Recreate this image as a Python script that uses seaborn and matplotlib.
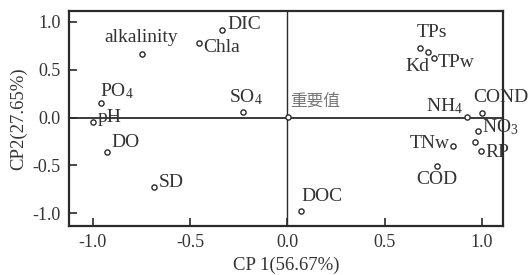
import matplotlib
matplotlib.use('Agg')
import matplotlib.pyplot as plt
import seaborn as sns
import pandas as pd

# loadings
labels = ['alkalinity', 'Chla', 'DIC', 'PO$\\mathregular{_4}$', 'pH', 'SO$\\mathregular{_4}$',
          '重要值', 'TPs', 'Kd', 'TPw', 'NH$\\mathregular{_4}$', 'COND', 'NO$\\mathregular{_3}$',
          '', 'RP', 'TNw', 'COD', 'DOC', 'DO', 'SD']
cp1 = [-0.75, -0.456, -0.338, -0.959, -1.0, -0.226,
       0.005, 0.682, 0.723, 0.754, 0.923, 1.0, 0.979,
       0.964, 0.995, 0.851, 0.769, 0.072, -0.928, -0.687]
cp2 = [0.67, 0.785, 0.911, 0.157, -0.052, 0.063,
       0.01, 0.723, 0.691, 0.618, 0.01, 0.052, -0.136,
       -0.251, -0.346, -0.293, -0.503, -0.974, -0.366, -0.723]
x_ticks = [-1.0, -0.5, 0.0, 0.5, 1.0]
y_ticks = [-1.0, -0.5, 0.0, 0.5, 1.0]

df = pd.DataFrame({'CP1': cp1, 'CP2': cp2, 'var': labels})

# label placement (offset in px, ha, va)
place = {
    'alkalinity': (0, 8, 'center', 'bottom'),
    'Chla': (5, -5, 'left', 'center'),
    'DIC': (6, 6, 'left', 'center'),
    'PO$\\mathregular{_4}$': (-1, 11, 'left', 'center'),
    'pH': (5, 5, 'left', 'center'),
    'SO$\\mathregular{_4}$': (2, 14, 'center', 'center'),
    '重要值': (2, 15, 'left', 'center'),
    'TPs': (-3, 16, 'left', 'center'),
    'Kd': (1, -15, 'right', 'center'),
    'TPw': (4, -4, 'left', 'center'),
    'NH$\\mathregular{_4}$': (-4, 10, 'right', 'center'),
    'COND': (-9, 15, 'left', 'center'),
    'NO$\\mathregular{_3}$': (4, 3, 'left', 'center'),
    'RP': (5, -2, 'left', 'center'),
    'TNw': (-3, 2, 'right', 'center'),
    'COD': (0, -14, 'center', 'center'),
    'DOC': (0, 14, 'left', 'center'),
    'DO': (4, 10, 'left', 'center'),
    'SD': (5, 4, 'left', 'center'),
}

sns.set_style('ticks')
plt.rcParams['font.family'] = ['Liberation Serif', 'Noto Sans CJK SC']
plt.rcParams['mathtext.fontset'] = 'custom'
plt.rcParams['mathtext.rm'] = 'Liberation Serif'

ink = '#2a2a2a'
fig = plt.figure(figsize=(5.31, 2.75), dpi=100)
ax = fig.add_axes([0.130, 0.178, 0.817, 0.782])

ax.axhline(0, color=ink, lw=1.3, zorder=1)
ax.axvline(0, color=ink, lw=1.0, zorder=1)

sns.scatterplot(data=df, x='CP1', y='CP2', ax=ax, marker='o', s=14,
                color=ink, linewidth=1.0, zorder=3, legend=False)
ax.collections[0].set_facecolor('white')
ax.collections[0].set_edgecolor(ink)

pt = 0.72  # px -> points at 100 dpi
for lab, x, y in zip(labels, cp1, cp2):
    if lab == '':
        continue
    dx, dy, ha, va = place[lab]
    col = '#777777' if lab == '重要值' else '#333333'
    fam = ['Noto Sans CJK SC'] if lab == '重要值' else ['Liberation Serif']
    fs = 12 if lab == '重要值' else 14
    ax.annotate(lab, (x, y), xytext=(dx * pt, dy * pt), textcoords='offset points',
                ha=ha, va=va, fontsize=fs, color=col, family=fam)

ax.set_xlim(-1.123, 1.108)
ax.set_ylim(-1.136, 1.115)
ax.set_xticks(x_ticks)
ax.set_yticks(y_ticks)
ax.set_xticklabels([f'{v:.1f}' for v in x_ticks])
ax.set_yticklabels([f'{v:.1f}' for v in y_ticks])
ax.tick_params(direction='in', length=6, width=1.2, labelsize=13, colors=ink,
               labelcolor='#333333', pad=6)
for s in ax.spines.values():
    s.set_linewidth(1.6)
    s.set_color(ink)
ax.set_xlabel('CP 1(56.67%)', fontsize=13.5, color='#333333', labelpad=4)
ax.set_ylabel('CP2(27.65%)', fontsize=13.5, color='#333333', labelpad=4)

fig.savefig('out.png', dpi=100)
